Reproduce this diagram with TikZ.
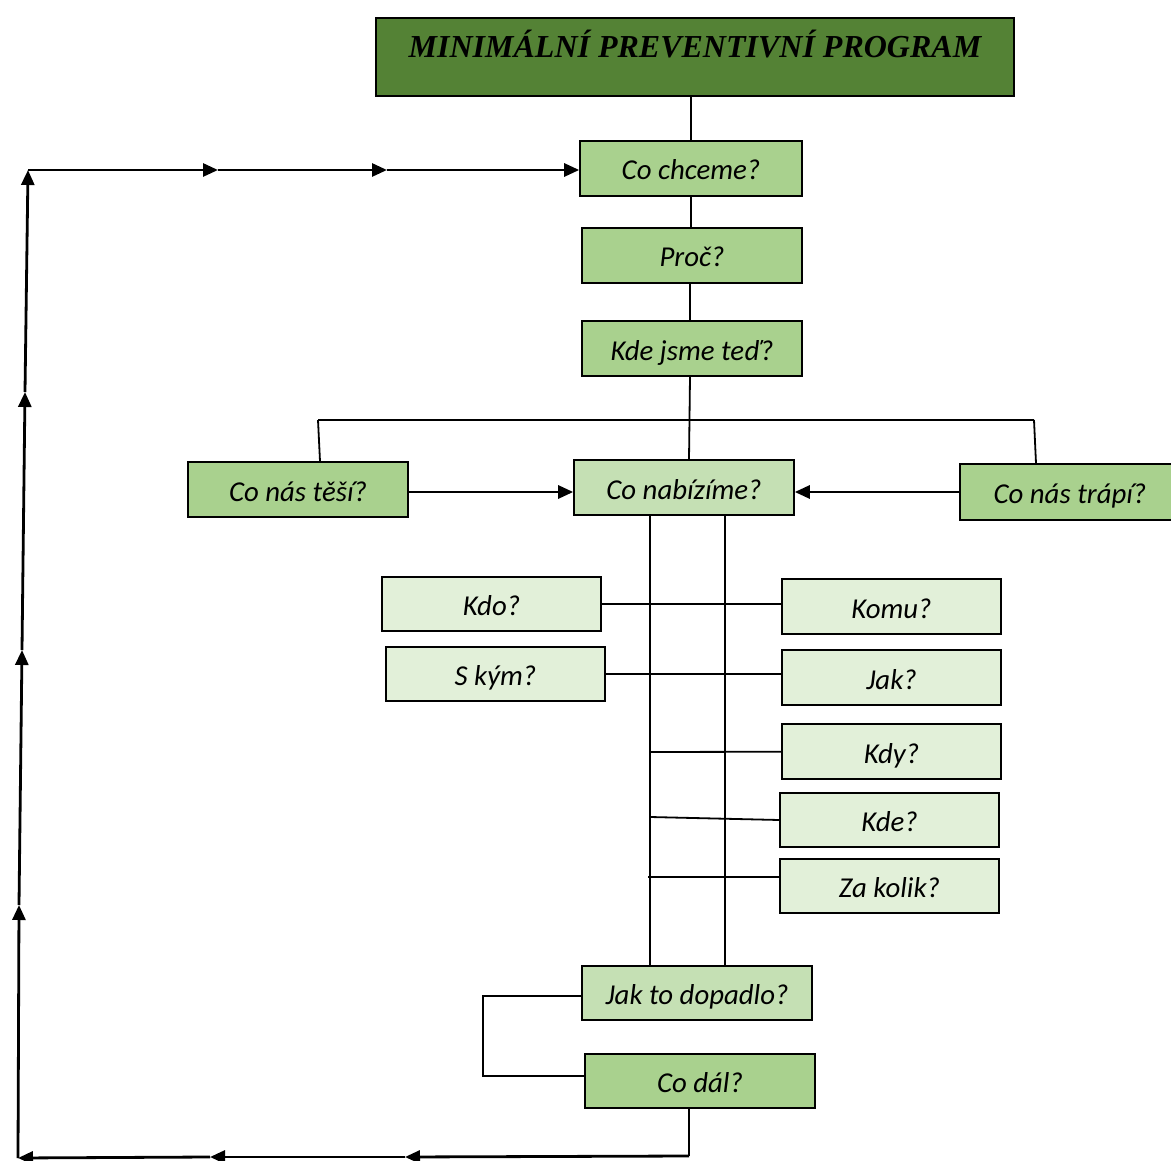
\documentclass[tikz,border=0pt]{standalone}
\usepackage{fontspec}
\setmainfont{Carlito}
\newfontfamily\titlefont{Liberation Serif}
\usetikzlibrary{arrows.meta}
\definecolor{mppgreen}{HTML}{548235}
\definecolor{midgreen}{HTML}{A9D18E}
\definecolor{paleGreen}{HTML}{C5E0B4}
\definecolor{lightgreen}{HTML}{E2F0D9}
\begin{document}
\begin{tikzpicture}[x=1pt,y=-1pt,
				box/.style={draw,line width=1.6pt,minimum width=220pt,minimum height=55pt,inner sep=0pt,
					text height=23pt,text depth=0pt,font=\fontsize{28.8}{32}\selectfont\itshape},
				q/.style={box,fill=midgreen},
				hub/.style={box,fill=paleGreen},
				ask/.style={box,fill=lightgreen,minimum width=219pt,minimum height=54pt},
				link/.style={line width=1.8pt},
				flow/.style={line width=2.8pt,-{Triangle[length=15pt,width=13pt]}}]
\useasboundingbox (0,0) rectangle (1171,1161);
\node[box,fill=mppgreen,minimum width=638pt,minimum height=78pt,text height=20pt,text depth=18pt,
	font=\fontsize{32}{34}\selectfont\titlefont\bfseries\itshape] (mpp) at (695,57) {MINIMÁLNÍ PREVENTIVNÍ PROGRAM};
\node[q,minimum width=222pt] (chceme) at (691,168.5) {Co chceme?};
\node[q] (proc) at (692,255.5) {Proč?};
\node[q] (ted) at (692,348.5) {Kde jsme teď?};
\node[q] (tesi) at (298,489.5) {Co nás těší?};
\node[hub] (nabizime) at (684,487.5) {Co nabízíme?};
\node[q,minimum height=56pt] (trapi) at (1070,492) {Co nás trápí?};
\node[ask] (kdo) at (491.5,604) {Kdo?};
\node[ask,minimum height=55pt] (komu) at (891.5,606.5) {Komu?};
\node[ask] (skym) at (495.5,674) {S kým?};
\node[ask,minimum height=55pt] (jak) at (891.5,677.5) {Jak?};
\node[ask,minimum height=55pt] (kdy) at (891.5,751.5) {Kdy?};
\node[ask] (kde) at (889.5,820) {Kde?};
\node[ask] (zakolik) at (889.5,886) {Za kolik?};
\node[hub,minimum width=230pt,minimum height=54pt] (dopadlo) at (697,993) {Jak to dopadlo?};
\node[q,minimum width=230pt,minimum height=54pt] (dal) at (700,1081) {Co dál?};
\coordinate (bl) at (318,420);
\coordinate (br) at (1034,420);
\coordinate (ml) at (650,515);
\coordinate (mr) at (725,515);
\coordinate (ret) at (483,996);
\coordinate (reb) at (483,1076);
\coordinate (d0) at (689,1156);
\coordinate (d1) at (405,1157);
\coordinate (d2) at (210,1157);
\coordinate (d3) at (18,1158);
\coordinate (u1) at (19,905);
\coordinate (u2) at (22,650);
\coordinate (u3) at (25,392);
\coordinate (u4) at (28,170);
\coordinate (r1) at (218,170);
\coordinate (r2) at (387,170);
\coordinate (ea) at (408,492);
\coordinate (eb) at (960,492);
\draw[link] (mpp.south -| chceme) -- (chceme.north);
\draw[link] (chceme.south) -- (chceme.south |- proc.north);
\draw[link] (proc.south) ++(-2,0) -- ++(0,38);
\draw[link] (ted.south) ++(-2,0) -- (689,460);
\draw[link] (bl) -- (br);
\draw[link] (bl) -- (tesi.north -| 320,0);
\draw[link] (br) -- (trapi.north -| 1036,0);
\draw[flow] (ea) -- (ea -| nabizime.west);
\draw[flow] (eb) -- (eb -| nabizime.east);
\draw[link] (ml) -- (ml |- dopadlo.north);
\draw[link] (mr) -- (mr |- dopadlo.north);
\draw[link] (kdo) -- (komu.west |- kdo);
\draw[link] (skym) -- (jak.west |- skym);
\draw[link] (650,752) -- (kdy);
\draw[link] (650,817) -- (kde.west);
\draw[link] (648,877) -- (zakolik.west |- 0,877);
\draw[link] (dopadlo.west |- ret) -- (ret) -- (reb) -- (dal.west |- reb);
\draw[line width=2.8pt] (dal.south -| d0) -- (d0);
\draw[flow] (d0) -- (d1);
\draw[flow] (d1) -- (d2);
\draw[flow] (d2) -- (d3);
\draw[flow] (d3) -- (u1);
\draw[flow] (u1) -- (u2);
\draw[flow] (u2) -- (u3);
\draw[flow] (u3) -- (u4);
\draw[flow] (u4) -- (r1);
\draw[flow] (r1) -- (r2);
\draw[flow] (r2) -- (r2 -| chceme.west);
\end{tikzpicture}
\end{document}
